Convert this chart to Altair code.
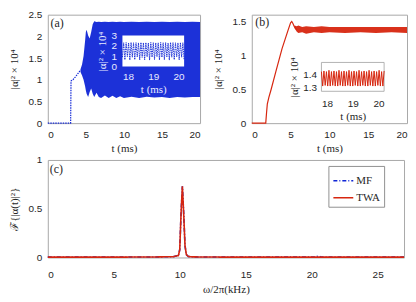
import altair as alt
import pandas as pd

# ---------------- data ----------------
# panel (a): mean-field |alpha|^2 x 1e4
a_line_t = [0, 3.0, 3.05, 3.3, 3.6, 3.9, 4.2, 4.4]
a_line_v = [0, 0, 0.97, 1.0, 1.06, 1.13, 1.2, 1.22]
a_band_t = [4.3, 4.5, 4.7, 4.9, 5.0, 5.1, 5.3, 5.5, 5.7, 5.9,
            6.1, 6.4, 6.7, 7.0, 7.5, 8.0, 8.5, 9.0, 9.5, 10.0,
            11.0, 12.0, 13.0, 14.0, 15.0, 16.0, 17.0, 18.0, 19.0, 20.0]
a_band_lo = [1.18, 1.1, 1.0, 0.85, 0.75, 0.68, 0.6, 0.72, 0.8, 0.68,
             0.6, 0.7, 0.6, 0.58, 0.64, 0.58, 0.63, 0.58, 0.62, 0.58,
             0.61, 0.58, 0.61, 0.59, 0.6, 0.58, 0.6, 0.59, 0.6, 0.6]
a_band_hi = [1.24, 1.35, 1.55, 1.9, 2.1, 2.15, 2.02, 1.95, 2.1, 2.28,
             2.35, 2.33, 2.34, 2.33, 2.34, 2.33, 2.34, 2.33, 2.34, 2.33,
             2.34, 2.33, 2.34, 2.33, 2.34, 2.33, 2.34, 2.33, 2.34, 2.33]
ins_t = [round(18 + 0.04 * i, 2) for i in range(51)]
ins_a_v = [0.9, 2.3, 0.65, 2.32, 0.95, 2.28, 0.62, 2.33, 0.9, 2.3,
           0.66, 2.31, 0.92, 2.29, 0.63, 2.33, 0.88, 2.3, 0.64, 2.32,
           0.93, 2.28, 0.62, 2.33, 0.9, 2.31, 0.66, 2.3, 0.94, 2.29,
           0.63, 2.33, 0.89, 2.3, 0.65, 2.32, 0.92, 2.28, 0.62, 2.33,
           0.9, 2.31, 0.66, 2.3, 0.93, 2.29, 0.63, 2.32, 0.9, 2.3, 0.65]

# panel (b): TWA
b_line_t = [0, 1.8, 1.9, 2.0, 2.2, 2.5, 3.1, 3.5, 3.9, 4.3, 4.7, 5.0, 5.15, 5.3, 5.5, 5.8]
b_line_v = [0, 0, 0.15, 0.28, 0.38, 0.5, 0.76, 0.93, 1.1, 1.24, 1.38, 1.48, 1.5, 1.47, 1.42, 1.38]
b_band_t = [5.5, 5.8, 6.0, 6.5, 7.0, 8.0, 9.0, 10.0, 12.0, 14.0, 16.0, 18.0, 20.0]
b_band_lo = [1.4, 1.35, 1.33, 1.34, 1.32, 1.34, 1.33, 1.34, 1.33, 1.34, 1.33, 1.34, 1.33]
b_band_hi = [1.44, 1.43, 1.44, 1.42, 1.43, 1.42, 1.43, 1.42, 1.42, 1.42, 1.42, 1.42, 1.42]
ins_b_v = [1.42, 1.31, 1.425, 1.315, 1.42, 1.31, 1.43, 1.31, 1.42, 1.315,
           1.425, 1.31, 1.42, 1.31, 1.43, 1.315, 1.42, 1.31, 1.425, 1.31,
           1.42, 1.315, 1.43, 1.31, 1.42, 1.31, 1.425, 1.315, 1.42, 1.31,
           1.43, 1.31, 1.42, 1.315, 1.425, 1.31, 1.42, 1.31, 1.43, 1.315,
           1.42, 1.31, 1.425, 1.31, 1.42, 1.315, 1.43, 1.31, 1.42, 1.31, 1.425]

# panel (c): spectrum
c_f = [0, 2, 4, 6, 8, 9.5, 9.9, 10.0, 10.1, 10.2, 10.3, 10.4, 10.5, 10.65,
       11, 13, 15, 17, 19, 20.3, 20.5, 20.7, 22, 24, 27]
c_mf = [0.004, 0.004, 0.004, 0.004, 0.005, 0.008, 0.02, 0.08, 0.45, 0.73, 0.45, 0.12, 0.03, 0.01,
        0.006, 0.004, 0.004, 0.004, 0.004, 0.005, 0.014, 0.005, 0.004, 0.004, 0.004]
c_twa = [0.004, 0.004, 0.004, 0.004, 0.005, 0.008, 0.02, 0.08, 0.45, 0.73, 0.45, 0.12, 0.03, 0.01,
         0.006, 0.004, 0.004, 0.004, 0.004, 0.004, 0.004, 0.004, 0.004, 0.004, 0.004]
series = ["MF", "TWA"]

# ---------------- style ----------------
BLUE = "#1026d6"
RED = "#d7260f"
SANS = "Liberation Sans"
SERIF = "Liberation Serif"
TXT = "#262626"
H = 109
WA, WB, WC = 153, 156, 358
YT = "|α|² × 10⁴"


def xax(title, values, **kw):
    return alt.Axis(title=title, values=values, labelPadding=6, titlePadding=3, format="~g",
                    labelOverlap=False, **kw)


def yax(title, values, **kw):
    return alt.Axis(title=title, values=values, labelPadding=6, titlePadding=3, format="~g",
                    labelOverlap=False, minExtent=25, maxExtent=25, **kw)


def tag(X, Y, x, y, s):
    return alt.Chart(pd.DataFrame({"t": [x], "v": [y], "s": [s]})).mark_text(
        font=SERIF, fontSize=12, align="left", baseline="middle", color=TXT
    ).encode(x=X("t"), y=Y("v"), text="s:N")


# ---------------- panel (a) ----------------
def XA(f):
    return alt.X(f"{f}:Q", scale=alt.Scale(domain=[0, 20], nice=False),
                 axis=xax("t (ms)", [0, 5, 10, 15, 20]))


def YA(f):
    return alt.Y(f"{f}:Q", scale=alt.Scale(domain=[0, 2.5], nice=False),
                 axis=yax(YT, [0, 0.5, 1, 1.5, 2, 2.5]))


a_band = alt.Chart(pd.DataFrame({"t": a_band_t, "lo": a_band_lo, "hi": a_band_hi})).mark_area(
    color=BLUE, opacity=0.95
).encode(x=XA("t"), y=YA("lo"), y2="hi:Q")
a_line = alt.Chart(pd.DataFrame({"t": a_line_t, "v": a_line_v})).mark_line(
    color=BLUE, strokeWidth=1.2, strokeDash=[1.5, 1]
).encode(x=XA("t"), y=YA("v"))
main_a = alt.layer(a_band, a_line, tag(XA, YA, 0.35, 2.3, "(a)"))

INS_A_TXT = "#e8ebff"


def IXA(f):
    return alt.X(f"{f}:Q", scale=alt.Scale(domain=[18, 20], range=[75, 137], nice=False),
                 axis=alt.Axis(orient="bottom", offset=-(H - 52), values=[18, 19, 20],
                               title="t (ms)", labelPadding=5, titlePadding=2, format="~g",
                               labelOverlap=False, zindex=2,
                               labelColor=INS_A_TXT, titleColor=INS_A_TXT))


def IYA(f):
    return alt.Y(f"{f}:Q", scale=alt.Scale(domain=[0, 3], range=[52, 21], nice=False),
                 axis=alt.Axis(orient="left", offset=-75, values=[0, 1, 2, 3],
                               title=YT, labelPadding=6, titlePadding=3, format="~g",
                               labelOverlap=False, zindex=2,
                               labelColor=INS_A_TXT, titleColor=INS_A_TXT))


a_bg = alt.Chart(pd.DataFrame({"x": [18], "x2": [20], "y": [0], "y2": [3]})).mark_rect(
    fill="white"
).encode(x=IXA("x"), x2="x2:Q", y=IYA("y"), y2="y2:Q")
a_ins = alt.Chart(pd.DataFrame({"x": ins_t, "y": ins_a_v})).mark_line(
    color=BLUE, strokeWidth=0.9, strokeDash=[1.5, 0.8]
).encode(x=IXA("x"), y=IYA("y"))
panel_a = alt.layer(main_a, alt.layer(a_bg, a_ins)).resolve_scale(
    x="independent", y="independent").properties(width=WA, height=H)

# ---------------- panel (b) ----------------
def XB(f):
    return alt.X(f"{f}:Q", scale=alt.Scale(domain=[0, 20], nice=False),
                 axis=xax("t (ms)", [0, 5, 10, 15, 20]))


def YB(f):
    return alt.Y(f"{f}:Q", scale=alt.Scale(domain=[0, 1.6], nice=False),
                 axis=yax(YT, [0, 0.5, 1, 1.5]))


b_band = alt.Chart(pd.DataFrame({"t": b_band_t, "lo": b_band_lo, "hi": b_band_hi})).mark_area(
    color=RED, opacity=0.95
).encode(x=XB("t"), y=YB("lo"), y2="hi:Q")
b_line = alt.Chart(pd.DataFrame({"t": b_line_t, "v": b_line_v})).mark_line(
    color=RED, strokeWidth=1.2
).encode(x=XB("t"), y=YB("v"))
main_b = alt.layer(b_band, b_line, tag(XB, YB, 0.45, 1.49, "(b)"))


def IXB(f):
    return alt.X(f"{f}:Q", scale=alt.Scale(domain=[18, 20], range=[70, 133], nice=False),
                 axis=alt.Axis(orient="bottom", offset=-(H - 77), values=[18, 19, 20],
                               title="t (ms)", labelPadding=7, titlePadding=2, format="~g",
                               labelOverlap=False, zindex=2))


def IYB(f):
    return alt.Y(f"{f}:Q", scale=alt.Scale(domain=[1.27, 1.49], range=[77, 48], nice=False),
                 axis=alt.Axis(orient="left", offset=-70, values=[1.3, 1.4],
                               title=YT, labelPadding=5, titlePadding=3, format="~g",
                               labelOverlap=False, zindex=2))


b_bg = alt.Chart(pd.DataFrame({"x": [18], "x2": [20], "y": [1.27], "y2": [1.49]})).mark_rect(
    fill="white", stroke="#a0a0a0", strokeWidth=0.8
).encode(x=IXB("x"), x2="x2:Q", y=IYB("y"), y2="y2:Q")
b_ins = alt.Chart(pd.DataFrame({"x": ins_t, "y": ins_b_v})).mark_line(
    color=RED, strokeWidth=1
).encode(x=IXB("x"), y=IYB("y"))
panel_b = alt.layer(main_b, alt.layer(b_bg, b_ins)).resolve_scale(
    x="independent", y="independent").properties(width=WB, height=H)

# ---------------- panel (c) ----------------
def XC(f):
    return alt.X(f"{f}:Q", scale=alt.Scale(domain=[0, 27], nice=False),
                 axis=alt.Axis(title="ω/2π(kHz)", values=[0, 5, 10, 15, 20, 25], format="~g",
                               labelOverlap=False, labelPadding=12, titlePadding=4))


def YC(f):
    return alt.Y(f"{f}:Q", scale=alt.Scale(domain=[0, 1], nice=False),
                 axis=yax("ℱ{|α(t)|²}", [0, 0.5, 1]))


n = len(c_f)
dfc = pd.DataFrame({"t": c_f + c_f, "v": c_mf + c_twa, "s": ["MF"] * n + ["TWA"] * n})
leg = dict(orient="none", legendX=282, legendY=6, title=None, strokeColor="#909090",
           fillColor="white", padding=4, labelFont=SERIF, labelFontSize=11, labelColor=TXT,
           symbolType="stroke", symbolSize=400, symbolStrokeWidth=1.5, rowPadding=1, labelOffset=2)
c_lines = alt.Chart(dfc).mark_line(strokeWidth=1.6).encode(
    x=XC("t"),
    y=YC("v"),
    color=alt.Color("s:N", scale=alt.Scale(domain=series, range=[BLUE, RED]), legend=alt.Legend(**leg)),
    strokeDash=alt.StrokeDash("s:N", scale=alt.Scale(domain=series, range=[[4, 2, 1, 2], [1, 0]]),
                              legend=alt.Legend(**leg)),
)
panel_c = alt.layer(c_lines, tag(XC, YC, 0.15, 0.91, "(c)")).properties(width=WC, height=98)

top = alt.hconcat(panel_a, panel_b, spacing=52, bounds="flush")
chart = alt.vconcat(top, panel_c, spacing=0).resolve_legend(
    color="independent", strokeDash="independent"
).properties(
    padding={"left": 0, "top": 0, "right": 0, "bottom": 0}
).configure_view(stroke="#a8a8a8", strokeWidth=1).configure_axis(
    grid=False, domain=False, tickSize=0, labelFont=SANS, labelFontSize=10, labelColor=TXT,
    titleFont=SERIF, titleFontSize=11, titleFontWeight="normal", titleColor=TXT
)

chart.save("out.html", embed_options={"renderer": "svg", "actions": False})
